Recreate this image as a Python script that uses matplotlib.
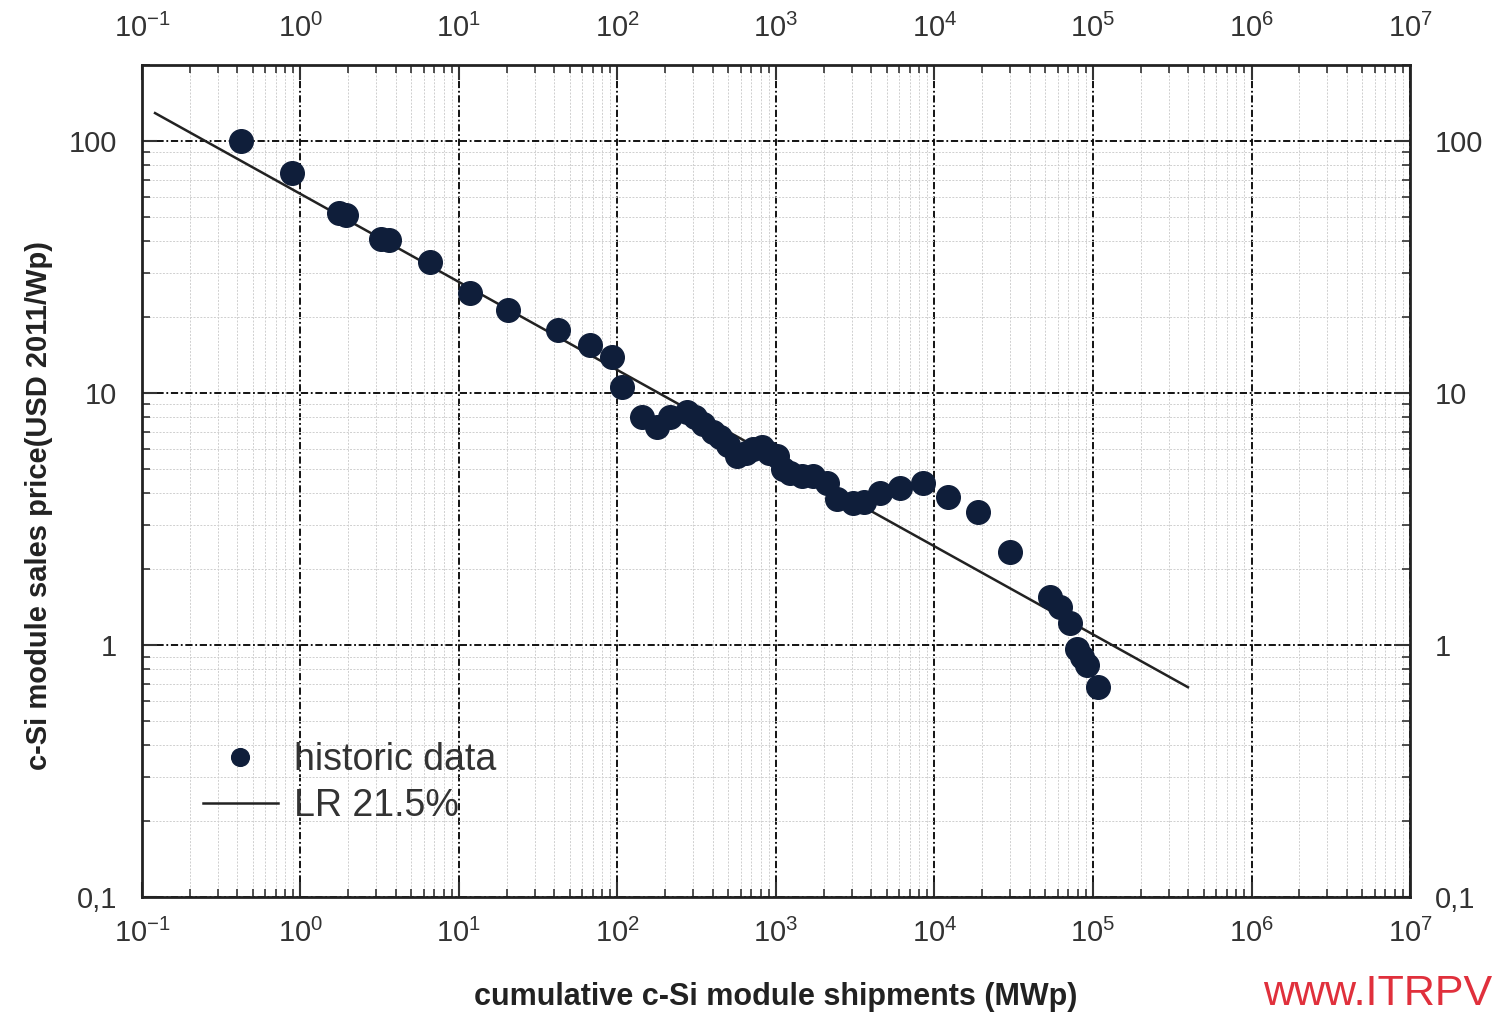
import matplotlib.pyplot as plt
from matplotlib.ticker import FixedLocator, FixedFormatter, LogLocator, LogFormatterMathtext, NullFormatter

# historic data (MWp, USD 2011/Wp)
shipments = [0.42, 0.88, 1.75, 1.95, 3.2, 3.6, 6.6, 11.7, 20.4, 42, 67, 92, 107,
             143, 177, 214, 274, 310, 347, 400, 444, 500, 567, 650, 720, 816,
             900, 1015, 1100, 1230, 1450, 1710, 2090, 2430, 3060, 3600, 4530,
             6060, 8460, 12200, 18800, 30000, 53600, 61700, 71600, 79000,
             85000, 91000, 107000]
price = [100, 74.6, 52, 51, 41, 40.5, 33, 25, 21.3, 17.8, 15.5, 13.9, 10.6,
         8.0, 7.3, 8.0, 8.4, 8.0, 7.5, 7.0, 6.7, 6.2, 5.6, 5.8, 6.0, 6.1,
         5.8, 5.6, 5.0, 4.8, 4.7, 4.7, 4.4, 3.8, 3.65, 3.7, 4.0,
         4.2, 4.4, 3.87, 3.37, 2.34, 1.55, 1.41, 1.22, 0.96,
         0.9, 0.83, 0.68]

# learning rate line endpoints
lr_x = [0.121, 397000]
lr_y = [129, 0.68]

x_ticks = [1e-1, 1e0, 1e1, 1e2, 1e3, 1e4, 1e5, 1e6, 1e7]
y_ticks = [0.1, 1, 10, 100]
y_labels = ['0,1', '1', '10', '100']

plt.rcParams['font.family'] = ['Liberation Sans', 'DejaVu Sans']

fig = plt.figure(figsize=(14.94, 10.17), dpi=100)
ax = fig.add_axes([0.095, 0.118, 0.8488, 0.818])

ax.set_xscale('log')
ax.set_yscale('log')
ax.set_xlim(0.1, 1e7)
ax.set_ylim(0.1, 200)

ax.grid(True, which='minor', color='#cfcfcf', lw=0.7, linestyle=(0, (2, 1.5)))
ax.grid(True, which='major', color='black', lw=1.3, linestyle=(0, (4, 1.5, 1, 1.5)))
ax.set_axisbelow(True)

ax.plot(lr_x, lr_y, color='#222222', lw=1.8, label='LR 21.5%', zorder=3)
ax.plot(shipments, price, 'o', color='#0f1e3a', markersize=17,
        linestyle='none', label='historic data', zorder=4)

ax.xaxis.set_major_locator(FixedLocator(x_ticks))
ax.xaxis.set_major_formatter(LogFormatterMathtext())
ax.xaxis.set_minor_locator(LogLocator(base=10, subs=range(2, 10), numticks=20))
ax.xaxis.set_minor_formatter(NullFormatter())
ax.yaxis.set_major_locator(FixedLocator(y_ticks))
ax.yaxis.set_major_formatter(FixedFormatter(y_labels))
ax.yaxis.set_minor_locator(LogLocator(base=10, subs=range(2, 10), numticks=20))
ax.yaxis.set_minor_formatter(NullFormatter())

ax.tick_params(which='both', direction='in', top=True, right=True,
               labeltop=True, labelright=True, labelsize=21, colors='#333333')
ax.tick_params(which='major', length=11, width=1.5)
ax.tick_params(which='minor', length=6, width=1.2)
ax.tick_params(axis='x', which='major', pad=16)
ax.tick_params(axis='y', which='major', pad=18)
for s in ax.spines.values():
    s.set_linewidth(2)
    s.set_color('#222222')

ax.set_xlabel('cumulative c-Si module shipments (MWp)', fontsize=22,
              fontweight='bold', color='#222222', labelpad=24)
ax.set_ylabel('c-Si module sales price(USD 2011/Wp)', fontsize=21,
              fontweight='bold', color='#222222')
ax.yaxis.set_label_coords(-0.07, 0.47)

h, l = ax.get_legend_handles_labels()
leg = ax.legend(h[::-1], l[::-1], loc='lower left', bbox_to_anchor=(0.036, 0.07),
                fontsize=27, frameon=False, handlelength=2.0, handletextpad=0.45,
                labelspacing=0.25, markerscale=0.75, borderaxespad=0)
for t in leg.get_texts():
    t.set_color('#333333')

fig.text(0.999, 0.012, 'www.ITRPV', color='#e0303c', fontsize=31, ha='right')

fig.savefig('out.png', dpi=100)
